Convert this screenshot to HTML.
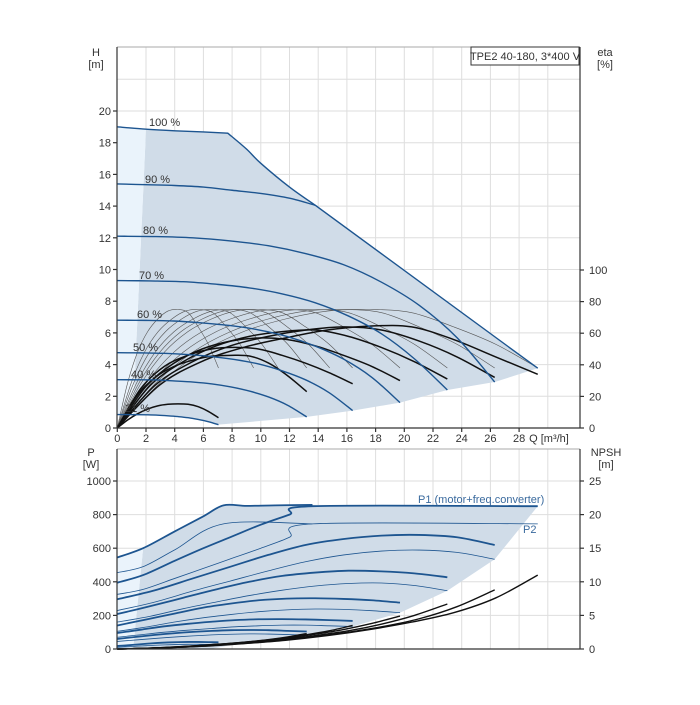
<!DOCTYPE html>
<html><head><meta charset="utf-8"><style>
html,body{margin:0;padding:0;background:#fff}
svg text{font-family:"Liberation Sans",sans-serif;font-size:11px;fill:#333}
</style></head><body>
<svg id="chart" width="700" height="700" viewBox="0 0 700 700" xmlns="http://www.w3.org/2000/svg">
<g id="bg"></g><g id="grid"></g><g id="shade"></g><g id="lines"></g><g id="axes"></g><g id="labels"></g>
</svg>
<script>
// ---- data ----
const xTicks=[0,2,4,6,8,10,12,14,16,18,20,22,24,26,28];
const hTicks=[0,2,4,6,8,10,12,14,16,18,20];
const etaTicks=[0,20,40,60,80,100];
const pTicks=[0,200,400,600,800,1000];
const npshTicks=[0,5,10,15,20,25];
const speedNames=["21 %","40 %","50 %","60 %","70 %","80 %"];
const speedEnds=[7.05,13.2,16.4,19.7,23,26.3];
const h21=[.85,.85,.84,.83,.81,.77,.72,.65,.54,.40,.21];
const h40=[3.05,3.04,3.03,2.97,2.9,2.78,2.59,2.32,1.95,1.43,.70];
const h50=[4.75,4.74,4.71,4.63,4.51,4.32,4.04,3.61,3.04,2.23,1.1];
const h60=[6.8,6.79,6.75,6.63,6.46,6.19,5.78,5.17,4.35,3.2,1.6];
const h70=[9.3,9.28,9.23,9.07,8.84,8.46,7.9,7.07,5.95,4.37,2.4];
const h80=[12.1,12.08,12.0,11.8,11.5,11.0,10.3,9.2,7.74,5.7,2.9];
const h90Q=[0,2,4,6,8,10,12,13.8,29.3];
const h90H=[15.4,15.35,15.3,15.2,15.0,14.8,14.5,14.05,3.77];
const h100Q=[0,2,4,6,7.7,9,10,12,13.8];
const h100H=[19,18.85,18.75,18.68,18.6,17.6,16.7,15.2,14.05];
const thickEta21=[0,5,9,12,14,15,15.3,15,13.5,10.5,6.5];
const thickEta40=[0,20,32,39,43,45.5,46,45.5,41,33,23];
const thickEta50=[0,25,39,46,50,51,50,46,41,35,28];
const thickEta60=[0,26,41,50,55,57,56,52,46,39,30];
const thickEta70=[0,27,42,52,58,61,62,58,51,42,31];
const thickEta80=[0,27,42,52,58,62,64,62,55,45,32];
const thickEta90=[0,27,42,51,57,62,64.5,64,56,45,34];
const thinEta=[0,28,48,61,69,74,75,73,64,53,38];
const thinEnds=[7.05,9.5,11.2,13.2,14.8,16.4,19.7,23,26.3,29.3];
const p1_100Q=[0,1.8,4,6,7.4,9,11,13.6];
const p1_100=[545,600,700,790,855,852,855,858];
const p2_100Q=[0,1.8,4,7.4,13.6];
const p2_100=[455,490,590,745,745];
const p1_90Q=[0,1.8,4,6,8,10,12,13.6,20,29.3];
const p1_90=[395,440,525,600,670,740,800,850,850,850];
const p2_90Q=[0,1.8,4,6,8,10,12,13.6,20,29.3];
const p2_90=[325,355,420,480,540,600,665,745,745,745];
const p1_80=[296,350,420,490,560,620,655,675,679,665,619];
const p2_80=[229,280,345,405,465,520,560,583,589,575,534];
const p1_70=[208,255,305,355,400,435,455,466,462,450,427];
const p2_70=[160,195,240,280,318,350,375,390,393,378,347];
const p1_60=[140,175,210,245,270,290,300,302,298,290,276];
const p2_60=[105,130,160,185,205,222,233,238,236,228,216];
const p1_50=[95,115,135,150,162,172,177,178,176,172,167];
const p2_50=[70,85,100,112,122,132,138,142,142,138,134];
const p1_40=[60,72,84,94,102,108,112,113,112,108,104];
const p2_40=[45,54,63,71,78,84,88,90,89,86,83];
const p1_21=[18,22,27,32,36,39,41,42,42,41,40];
const p2_21=[10,13,17,20,23,25,27,28,28,27,26];
const npsh90=[0,0.15,0.4,0.8,1.3,2.0,2.9,4.0,5.4,7.6,11.0];
const npsh80=[0,0.15,0.35,0.7,1.1,1.7,2.4,3.3,4.5,6.3,8.8];
const npsh70=[0,0.12,0.3,0.6,0.95,1.4,2.0,2.7,3.7,5.0,6.7];
const npsh60=[0,0.1,0.25,0.5,0.8,1.2,1.6,2.2,2.9,3.8,4.9];
const npsh50=[0,0.08,0.2,0.4,0.6,0.9,1.2,1.6,2.1,2.7,3.5];
const npsh40=[0,0.06,0.15,0.3,0.45,0.65,0.85,1.1,1.4,1.8,2.3];
const npsh21=[0,.03,.07,.12,.18,.25,.32,.4,.5,.6,.75];

// ---- scales ----
const xS=q=>117.3+q*14.35;
const yH=h=>428-h*15.85;
const yE=e=>428-e*1.58;
const yP=p=>649-p*0.168;
const yN=n=>649-n*6.72;
const NS="http://www.w3.org/2000/svg";
function mk(tag,attrs,parent){const e=document.createElementNS(NS,tag);for(const k in attrs)e.setAttribute(k,attrs[k]);document.getElementById(parent).appendChild(e);return e;}
function smooth(pts){let d="M"+pts[0][0].toFixed(2)+","+pts[0][1].toFixed(2);
 for(let i=0;i<pts.length-1;i++){const p0=pts[Math.max(0,i-1)],p1=pts[i],p2=pts[i+1],p3=pts[Math.min(pts.length-1,i+2)];
 const c1=[p1[0]+(p2[0]-p0[0])/6,p1[1]+(p2[1]-p0[1])/6],c2=[p2[0]-(p3[0]-p1[0])/6,p2[1]-(p3[1]-p1[1])/6];
 d+="C"+c1.map(v=>v.toFixed(2)).join(",")+" "+c2.map(v=>v.toFixed(2)).join(",")+" "+p2[0].toFixed(2)+","+p2[1].toFixed(2);}
 return d;}
const frac=[0,.1,.2,.3,.4,.5,.6,.7,.8,.9,1];
function normPts(end,vals,ys){return vals.map((v,i)=>[xS(frac[i]*end),ys(v)]);}
function pairPts(qs,vals,ys){return qs.map((q,i)=>[xS(q),ys(vals[i])]);}
const BLUE="#1d5590";

// ---- grid ----
for(let q=2;q<=30;q+=2){
 let l=mk("line",{x1:xS(q),x2:xS(q),y1:47,y2:428,stroke:"#dedede","stroke-width":1},"grid");
 
 l=mk("line",{x1:xS(q),x2:xS(q),y1:449,y2:649,stroke:"#dedede","stroke-width":1},"grid");
 
}
for(let h=2;h<=22;h+=2){
 const l=mk("line",{x1:117,x2:580,y1:yH(h),y2:yH(h),stroke:"#dedede","stroke-width":1},"grid");
 
}
for(let p=200;p<=1000;p+=200){
 const l=mk("line",{x1:117,x2:580,y1:yP(p),y2:yP(p),stroke:"#dedede","stroke-width":1},"grid");
 
}

// ---- shaded regions upper ----
const allH=[h21,h40,h50,h60,h70,h80];
let ends=[[xS(7.05),yH(h21[10])]];
for(let i=1;i<6;i++)ends.push([xS(speedEnds[i]),yH(allH[i][10])]);
ends.push([xS(29.3),yH(3.77)]);
let d="M"+xS(2)+","+yH(18.85)+" L"+xS(1.1)+","+yH(0.85);
h21.forEach((v,i)=>{if(frac[i]*7.05>=1.1)d+=" L"+xS(frac[i]*7.05)+","+yH(v);});
ends.forEach(p=>d+=" L"+p[0]+","+p[1]);
for(let i=h100Q.length-1;i>=1;i--)d+=" L"+xS(h100Q[i])+","+yH(h100H[i]);
let s=mk("path",{d:d+"Z",fill:"#d0dce8"},"shade");

s=mk("path",{d:`M${xS(0)},${yH(19)} L${xS(2)},${yH(18.85)} L${xS(1.1)},${yH(0.85)} L${xS(0)},${yH(0.85)}Z`,fill:"#eaf3fb"},"shade");


// lower shaded
d=`M${xS(1.8)},${yP(600)}`;
for(let i=2;i<p1_100Q.length;i++)d+=` L${xS(p1_100Q[i])},${yP(p1_100[i])}`;
d+=` L${xS(29.3)},${yP(850)}`;
const p2s=[p2_80,p2_70,p2_60,p2_50,p2_40];
[26.3,23,19.7,16.4,13.2].forEach((e,i)=>d+=` L${xS(e)},${yP(p2s[i][10])}`);
d+=` L${xS(9.5)},${yP(50)} L${xS(6.5)},${yP(0)} L${xS(1.1)},${yP(0)}Z`;
s=mk("path",{d:d,fill:"#d0dce8"},"shade");

s=mk("path",{d:`M${xS(0)},${yP(545)} L${xS(1.8)},${yP(600)} L${xS(1.1)},${yP(0)} L${xS(0)},${yP(0)}Z`,fill:"#eaf3fb"},"shade");


// ---- eta curves ----
thinEnds.forEach(e=>{const p=mk("path",{d:smooth(normPts(e,thinEta,yE)),fill:"none",stroke:"#555","stroke-width":0.6},"lines");
 });
const thickAll=[thickEta21,thickEta40,thickEta50,thickEta60,thickEta70,thickEta80,thickEta90];
const thickEnds=[7.05,13.2,16.4,19.7,23,26.3,29.3];
thickAll.forEach((arr,i)=>{const p=mk("path",{d:smooth(normPts(thickEnds[i],arr,yE)),fill:"none",stroke:"#111","stroke-width":1.5},"lines");
 });

// ---- H curves ----
allH.forEach((arr,i)=>{const p=mk("path",{d:smooth(normPts(speedEnds[i],arr,yH)),fill:"none",stroke:BLUE,"stroke-width":1.4},"lines");
 });
let hp=mk("path",{d:smooth(pairPts(h90Q.slice(0,8),h90H.slice(0,8),yH))+` L${xS(h90Q[8])},${yH(h90H[8])}`,fill:"none",stroke:BLUE,"stroke-width":1.4},"lines");

hp=mk("path",{d:smooth(pairPts(h100Q.slice(0,5),h100H.slice(0,5),yH))+" "+smooth(pairPts(h100Q.slice(4),h100H.slice(4),yH)).replace("M","L"),fill:"none",stroke:BLUE,"stroke-width":1.4},"lines");


// ---- power curves ----
function pline(pts,w,name){const p=mk("path",{d:smooth(pts),fill:"none",stroke:BLUE,"stroke-width":w},"lines");
 }
pline(pairPts(p2_100Q,p2_100,yP),0.8,'p2-curve-100pct');
pline(pairPts(p2_90Q.slice(0,8),p2_90.slice(0,8),yP).concat([[xS(29.3),yP(745)]]),0.8,'p2-curve-90pct');
const p1s=[p1_21,p1_40,p1_50,p1_60,p1_70,p1_80];
const p2all=[p2_21,p2_40,p2_50,p2_60,p2_70,p2_80];
speedEnds.forEach((e,i)=>{pline(normPts(e,p2all[i],yP),0.8,'p2-curve');pline(normPts(e,p1s[i],yP),1.8,'p1-curve');});
pline(pairPts(p1_90Q.slice(0,8),p1_90.slice(0,8),yP).concat([[xS(29.3),yP(850)]]),1.8,'p1-curve-90pct');
pline(pairPts(p1_100Q,p1_100,yP),1.8,'p1-curve-100pct');

// ---- NPSH ----
const npAll=[npsh21,npsh40,npsh50,npsh60,npsh70,npsh80,npsh90];
npAll.forEach((arr,i)=>{const p=mk("path",{d:smooth(normPts(thickEnds[i],arr,yN)),fill:"none",stroke:"#111","stroke-width":1.4},"lines");
 });

// ---- axes ----
function ax(x1,y1,x2,y2,name,c,w){const l=mk("line",{x1,y1,x2,y2,stroke:c||"#333","stroke-width":w||1.2},"axes");}
ax(117,47,580,47,'upper-top-frame',"#aaa",1);
ax(117,47,117,428,'h-axis');ax(580,47,580,428,'eta-axis');ax(117,428,580,428,'q-axis');
ax(117,449,580,449,'lower-top-frame',"#aaa",1);
ax(117,449,117,649,'p-axis');ax(580,449,580,649,'npsh-axis');ax(117,649,580,649,'q-axis-lower');
function tx(x,y,str,anchor,name,extra){const t=mk("text",Object.assign({x,y,"text-anchor":anchor||"middle"},extra||{}),"labels");t.textContent=str;
 return t;}
xTicks.forEach(q=>{ax(xS(q),428,xS(q),432,'x-tick');tx(xS(q),442,String(q),"middle",'x-tick-label');});
tx(549,442,"Q [m³/h]","middle",'x-axis-title');
hTicks.forEach(h=>{ax(113,yH(h),117,yH(h),'h-tick');tx(111,yH(h)+4,String(h),"end",'h-tick-label');});
etaTicks.forEach(e=>{ax(580,yE(e),584,yE(e),'eta-tick');tx(589,yE(e)+4,String(e),"start",'eta-tick-label');});
pTicks.forEach(p=>{ax(113,yP(p),117,yP(p),'p-tick');tx(111,yP(p)+4,String(p),"end",'p-tick-label');});
npshTicks.forEach(n=>{ax(580,yN(n),584,yN(n),'npsh-tick');tx(589,yN(n)+4,String(n),"start",'npsh-tick-label');});
tx(96,56,"H","middle",'h-axis-title');tx(96,68,"[m]","middle",'h-axis-unit');
tx(605,56,"eta","middle",'eta-axis-title');tx(605,68,"[%]","middle",'eta-axis-unit');
tx(91,456,"P","middle",'p-axis-title');tx(91,468,"[W]","middle",'p-axis-unit');
tx(606,456,"NPSH","middle",'npsh-axis-title');tx(606,468,"[m]","middle",'npsh-axis-unit');
const lblX=[125,131,133,137,139,143,145,149];
const lblY=[412,378,351,318,279,234,183,126];
const lblT=["21 %","40 %","50 %","60 %","70 %","80 %","90 %","100 %"];
lblT.forEach((t,i)=>tx(lblX[i],lblY[i],t,"start",'speed-label'));
tx(418,503,"P1 (motor+freq.converter)","start",'p1-label',{style:"fill:#3a6a9e"});
tx(523,533,"P2","start",'p2-label',{style:"fill:#3a6a9e"});
const box=mk("rect",{x:471,y:47,width:108,height:18,fill:"#fff",stroke:"#333","stroke-width":1},"labels");

tx(525,60,"TPE2 40-180, 3*400 V","middle",'chart-title');
</script>
</body></html>
